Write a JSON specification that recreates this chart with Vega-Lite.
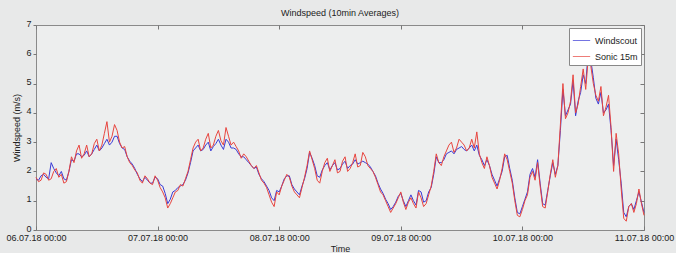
{
  "$schema": "https://vega.github.io/schema/vega-lite/v6.json",
  "width": 608,
  "height": 205,
  "autosize": {"type": "none"},
  "padding": {"left": 36, "top": 25, "right": 32, "bottom": 23},
  "background": "#e8e9e9",
  "title": {"text": "Windspeed (10min Averages)", "fontSize": 9, "fontWeight": "normal", "font": "Liberation Sans", "color": "#222222", "offset": 1},
  "config": {
    "view": {"stroke": "#8a8a8a", "fill": "#edeeee", "strokeWidth": 1},
    "font": "Liberation Sans",
    "axis": {"domain": false, "grid": false, "labelFont": "Liberation Sans", "labelFontSize": 9, "labelColor": "#222222", "titleFont": "Liberation Sans", "titleFontSize": 9, "titleFontWeight": "normal", "titleColor": "#222222", "tickColor": "#777777"}
  },
  "data": {"values": [
    {"t":"2018-07-06T00:00","w":1.75,"s":1.8},{"t":"2018-07-06T00:30","w":1.7,"s":1.65},{"t":"2018-07-06T01:00","w":1.85,"s":1.7},{"t":"2018-07-06T01:30","w":1.9,"s":1.95},{"t":"2018-07-06T02:00","w":1.8,"s":1.9},{"t":"2018-07-06T02:30","w":1.75,"s":1.7},{"t":"2018-07-06T03:00","w":2.3,"s":1.75},{"t":"2018-07-06T03:30","w":2.1,"s":2.0},{"t":"2018-07-06T04:00","w":1.95,"s":2.1},{"t":"2018-07-06T04:30","w":1.85,"s":1.8},{"t":"2018-07-06T05:00","w":2.0,"s":1.9},{"t":"2018-07-06T05:30","w":1.75,"s":1.6},{"t":"2018-07-06T06:00","w":1.7,"s":1.65},{"t":"2018-07-06T06:30","w":2.0,"s":2.0},{"t":"2018-07-06T07:00","w":2.4,"s":2.5},{"t":"2018-07-06T07:30","w":2.35,"s":2.3},{"t":"2018-07-06T08:00","w":2.6,"s":2.7},{"t":"2018-07-06T08:30","w":2.6,"s":2.9},{"t":"2018-07-06T09:00","w":2.5,"s":2.45},{"t":"2018-07-06T09:30","w":2.55,"s":2.6},{"t":"2018-07-06T10:00","w":2.7,"s":2.9},{"t":"2018-07-06T10:30","w":2.5,"s":2.5},{"t":"2018-07-06T11:00","w":2.6,"s":2.6},{"t":"2018-07-06T11:30","w":2.75,"s":2.95},{"t":"2018-07-06T12:00","w":2.9,"s":3.1},{"t":"2018-07-06T12:30","w":2.7,"s":2.7},{"t":"2018-07-06T13:00","w":2.8,"s":2.9},{"t":"2018-07-06T13:30","w":2.95,"s":3.3},{"t":"2018-07-06T14:00","w":3.1,"s":3.7},{"t":"2018-07-06T14:30","w":2.9,"s":3.0},{"t":"2018-07-06T15:00","w":3.0,"s":3.2},{"t":"2018-07-06T15:30","w":3.2,"s":3.6},{"t":"2018-07-06T16:00","w":3.2,"s":3.4},{"t":"2018-07-06T16:30","w":2.95,"s":3.0},{"t":"2018-07-06T17:00","w":2.8,"s":2.8},{"t":"2018-07-06T17:30","w":2.75,"s":2.85},{"t":"2018-07-06T18:00","w":2.5,"s":2.5},{"t":"2018-07-06T18:30","w":2.35,"s":2.3},{"t":"2018-07-06T19:00","w":2.25,"s":2.2},{"t":"2018-07-06T19:30","w":2.1,"s":2.05},{"t":"2018-07-06T20:00","w":1.9,"s":1.95},{"t":"2018-07-06T20:30","w":1.75,"s":1.7},{"t":"2018-07-06T21:00","w":1.65,"s":1.6},{"t":"2018-07-06T21:30","w":1.8,"s":1.85},{"t":"2018-07-06T22:00","w":1.7,"s":1.75},{"t":"2018-07-06T22:30","w":1.6,"s":1.6},{"t":"2018-07-06T23:00","w":1.6,"s":1.55},{"t":"2018-07-06T23:30","w":1.8,"s":1.85},
    {"t":"2018-07-07T00:00","w":1.75,"s":1.7},{"t":"2018-07-07T00:30","w":1.55,"s":1.45},{"t":"2018-07-07T01:00","w":1.5,"s":1.3},{"t":"2018-07-07T01:30","w":1.25,"s":1.1},{"t":"2018-07-07T02:00","w":0.9,"s":0.75},{"t":"2018-07-07T02:30","w":1.05,"s":0.9},{"t":"2018-07-07T03:00","w":1.3,"s":1.1},{"t":"2018-07-07T03:30","w":1.35,"s":1.3},{"t":"2018-07-07T04:00","w":1.45,"s":1.35},{"t":"2018-07-07T04:30","w":1.5,"s":1.55},{"t":"2018-07-07T05:00","w":1.55,"s":1.5},{"t":"2018-07-07T05:30","w":1.7,"s":1.75},{"t":"2018-07-07T06:00","w":1.95,"s":2.0},{"t":"2018-07-07T06:30","w":2.3,"s":2.4},{"t":"2018-07-07T07:00","w":2.7,"s":2.8},{"t":"2018-07-07T07:30","w":2.8,"s":3.0},{"t":"2018-07-07T08:00","w":2.9,"s":3.1},{"t":"2018-07-07T08:30","w":2.7,"s":2.7},{"t":"2018-07-07T09:00","w":2.75,"s":2.8},{"t":"2018-07-07T09:30","w":2.9,"s":3.1},{"t":"2018-07-07T10:00","w":3.0,"s":3.3},{"t":"2018-07-07T10:30","w":2.7,"s":2.8},{"t":"2018-07-07T11:00","w":2.85,"s":2.9},{"t":"2018-07-07T11:30","w":2.95,"s":3.2},{"t":"2018-07-07T12:00","w":3.1,"s":3.4},{"t":"2018-07-07T12:30","w":2.9,"s":3.05},{"t":"2018-07-07T13:00","w":2.75,"s":2.9},{"t":"2018-07-07T13:30","w":3.1,"s":3.5},{"t":"2018-07-07T14:00","w":3.0,"s":3.2},{"t":"2018-07-07T14:30","w":2.8,"s":2.9},{"t":"2018-07-07T15:00","w":2.8,"s":3.0},{"t":"2018-07-07T15:30","w":2.75,"s":2.85},{"t":"2018-07-07T16:00","w":2.6,"s":2.7},{"t":"2018-07-07T16:30","w":2.5,"s":2.45},{"t":"2018-07-07T17:00","w":2.5,"s":2.6},{"t":"2018-07-07T17:30","w":2.4,"s":2.5},{"t":"2018-07-07T18:00","w":2.3,"s":2.35},{"t":"2018-07-07T18:30","w":2.2,"s":2.2},{"t":"2018-07-07T19:00","w":2.1,"s":2.1},{"t":"2018-07-07T19:30","w":2.15,"s":2.2},{"t":"2018-07-07T20:00","w":1.9,"s":1.95},{"t":"2018-07-07T20:30","w":1.75,"s":1.7},{"t":"2018-07-07T21:00","w":1.65,"s":1.6},{"t":"2018-07-07T21:30","w":1.5,"s":1.45},{"t":"2018-07-07T22:00","w":1.35,"s":1.2},{"t":"2018-07-07T22:30","w":1.1,"s":0.95},{"t":"2018-07-07T23:00","w":1.0,"s":0.8},{"t":"2018-07-07T23:30","w":1.35,"s":1.3},
    {"t":"2018-07-08T00:00","w":1.3,"s":1.2},{"t":"2018-07-08T00:30","w":1.5,"s":1.5},{"t":"2018-07-08T01:00","w":1.75,"s":1.7},{"t":"2018-07-08T01:30","w":1.85,"s":1.9},{"t":"2018-07-08T02:00","w":1.85,"s":1.8},{"t":"2018-07-08T02:30","w":1.55,"s":1.5},{"t":"2018-07-08T03:00","w":1.4,"s":1.3},{"t":"2018-07-08T03:30","w":1.3,"s":1.2},{"t":"2018-07-08T04:00","w":1.2,"s":1.1},{"t":"2018-07-08T04:30","w":1.5,"s":1.45},{"t":"2018-07-08T05:00","w":1.75,"s":1.8},{"t":"2018-07-08T05:30","w":2.1,"s":2.2},{"t":"2018-07-08T06:00","w":2.65,"s":2.7},{"t":"2018-07-08T06:30","w":2.45,"s":2.4},{"t":"2018-07-08T07:00","w":2.2,"s":2.1},{"t":"2018-07-08T07:30","w":1.85,"s":1.7},{"t":"2018-07-08T08:00","w":1.8,"s":1.6},{"t":"2018-07-08T08:30","w":2.05,"s":2.0},{"t":"2018-07-08T09:00","w":2.2,"s":2.3},{"t":"2018-07-08T09:30","w":2.3,"s":2.45},{"t":"2018-07-08T10:00","w":2.05,"s":2.0},{"t":"2018-07-08T10:30","w":2.2,"s":2.2},{"t":"2018-07-08T11:00","w":2.3,"s":2.4},{"t":"2018-07-08T11:30","w":2.05,"s":1.95},{"t":"2018-07-08T12:00","w":2.1,"s":2.0},{"t":"2018-07-08T12:30","w":2.25,"s":2.35},{"t":"2018-07-08T13:00","w":2.35,"s":2.5},{"t":"2018-07-08T13:30","w":2.1,"s":2.0},{"t":"2018-07-08T14:00","w":2.2,"s":2.1},{"t":"2018-07-08T14:30","w":2.25,"s":2.3},{"t":"2018-07-08T15:00","w":2.4,"s":2.6},{"t":"2018-07-08T15:30","w":2.25,"s":2.15},{"t":"2018-07-08T16:00","w":2.3,"s":2.2},{"t":"2018-07-08T16:30","w":2.35,"s":2.65},{"t":"2018-07-08T17:00","w":2.3,"s":2.5},{"t":"2018-07-08T17:30","w":2.25,"s":2.2},{"t":"2018-07-08T18:00","w":2.15,"s":2.1},{"t":"2018-07-08T18:30","w":2.0,"s":2.0},{"t":"2018-07-08T19:00","w":1.85,"s":1.8},{"t":"2018-07-08T19:30","w":1.6,"s":1.55},{"t":"2018-07-08T20:00","w":1.4,"s":1.3},{"t":"2018-07-08T20:30","w":1.25,"s":1.2},{"t":"2018-07-08T21:00","w":1.05,"s":1.0},{"t":"2018-07-08T21:30","w":0.9,"s":0.8},{"t":"2018-07-08T22:00","w":0.7,"s":0.6},{"t":"2018-07-08T22:30","w":0.8,"s":0.75},{"t":"2018-07-08T23:00","w":0.95,"s":0.9},{"t":"2018-07-08T23:30","w":1.15,"s":1.1},
    {"t":"2018-07-09T00:00","w":1.25,"s":1.3},{"t":"2018-07-09T00:30","w":1.0,"s":0.95},{"t":"2018-07-09T01:00","w":0.8,"s":0.7},{"t":"2018-07-09T01:30","w":1.0,"s":0.95},{"t":"2018-07-09T02:00","w":1.2,"s":1.1},{"t":"2018-07-09T02:30","w":1.0,"s":0.9},{"t":"2018-07-09T03:00","w":0.85,"s":0.75},{"t":"2018-07-09T03:30","w":1.35,"s":1.3},{"t":"2018-07-09T04:00","w":1.3,"s":1.1},{"t":"2018-07-09T04:30","w":0.95,"s":0.8},{"t":"2018-07-09T05:00","w":1.0,"s":0.9},{"t":"2018-07-09T05:30","w":1.3,"s":1.2},{"t":"2018-07-09T06:00","w":1.45,"s":1.5},{"t":"2018-07-09T06:30","w":1.9,"s":2.0},{"t":"2018-07-09T07:00","w":2.5,"s":2.6},{"t":"2018-07-09T07:30","w":2.3,"s":2.3},{"t":"2018-07-09T08:00","w":2.3,"s":2.2},{"t":"2018-07-09T08:30","w":2.4,"s":2.5},{"t":"2018-07-09T09:00","w":2.6,"s":2.7},{"t":"2018-07-09T09:30","w":2.65,"s":2.9},{"t":"2018-07-09T10:00","w":2.7,"s":3.0},{"t":"2018-07-09T10:30","w":2.6,"s":2.65},{"t":"2018-07-09T11:00","w":2.75,"s":2.8},{"t":"2018-07-09T11:30","w":2.8,"s":3.1},{"t":"2018-07-09T12:00","w":2.85,"s":3.0},{"t":"2018-07-09T12:30","w":2.75,"s":2.9},{"t":"2018-07-09T13:00","w":2.7,"s":2.7},{"t":"2018-07-09T13:30","w":2.8,"s":2.8},{"t":"2018-07-09T14:00","w":2.9,"s":3.1},{"t":"2018-07-09T14:30","w":2.7,"s":2.8},{"t":"2018-07-09T15:00","w":2.9,"s":3.35},{"t":"2018-07-09T15:30","w":2.55,"s":2.6},{"t":"2018-07-09T16:00","w":2.4,"s":2.3},{"t":"2018-07-09T16:30","w":2.2,"s":2.1},{"t":"2018-07-09T17:00","w":2.4,"s":2.5},{"t":"2018-07-09T17:30","w":2.2,"s":2.2},{"t":"2018-07-09T18:00","w":1.9,"s":1.8},{"t":"2018-07-09T18:30","w":1.7,"s":1.6},{"t":"2018-07-09T19:00","w":1.5,"s":1.4},{"t":"2018-07-09T19:30","w":1.75,"s":1.7},{"t":"2018-07-09T20:00","w":2.0,"s":2.1},{"t":"2018-07-09T20:30","w":2.5,"s":2.6},{"t":"2018-07-09T21:00","w":2.55,"s":2.4},{"t":"2018-07-09T21:30","w":2.1,"s":2.0},{"t":"2018-07-09T22:00","w":1.7,"s":1.6},{"t":"2018-07-09T22:30","w":1.1,"s":1.0},{"t":"2018-07-09T23:00","w":0.6,"s":0.5},{"t":"2018-07-09T23:30","w":0.55,"s":0.45},
    {"t":"2018-07-10T00:00","w":0.8,"s":0.7},{"t":"2018-07-10T00:30","w":1.05,"s":1.0},{"t":"2018-07-10T01:00","w":1.3,"s":1.2},{"t":"2018-07-10T01:30","w":1.9,"s":1.8},{"t":"2018-07-10T02:00","w":2.1,"s":2.0},{"t":"2018-07-10T02:30","w":1.8,"s":1.7},{"t":"2018-07-10T03:00","w":2.4,"s":2.3},{"t":"2018-07-10T03:30","w":1.6,"s":1.5},{"t":"2018-07-10T04:00","w":0.9,"s":0.8},{"t":"2018-07-10T04:30","w":0.85,"s":0.75},{"t":"2018-07-10T05:00","w":1.35,"s":1.3},{"t":"2018-07-10T05:30","w":1.85,"s":1.9},{"t":"2018-07-10T06:00","w":2.3,"s":2.4},{"t":"2018-07-10T06:30","w":1.9,"s":1.8},{"t":"2018-07-10T07:00","w":2.2,"s":2.2},{"t":"2018-07-10T07:30","w":3.4,"s":3.6},{"t":"2018-07-10T08:00","w":4.8,"s":5.0},{"t":"2018-07-10T08:30","w":3.9,"s":3.8},{"t":"2018-07-10T09:00","w":4.1,"s":4.0},{"t":"2018-07-10T09:30","w":4.3,"s":4.4},{"t":"2018-07-10T10:00","w":5.1,"s":5.3},{"t":"2018-07-10T10:30","w":3.9,"s":4.0},{"t":"2018-07-10T11:00","w":4.4,"s":4.3},{"t":"2018-07-10T11:30","w":4.7,"s":4.9},{"t":"2018-07-10T12:00","w":5.3,"s":5.5},{"t":"2018-07-10T12:30","w":5.0,"s":4.8},{"t":"2018-07-10T13:00","w":6.1,"s":5.9},{"t":"2018-07-10T13:30","w":5.8,"s":5.6},{"t":"2018-07-10T14:00","w":5.2,"s":5.0},{"t":"2018-07-10T14:30","w":4.5,"s":4.6},{"t":"2018-07-10T15:00","w":4.3,"s":4.4},{"t":"2018-07-10T15:30","w":4.7,"s":4.9},{"t":"2018-07-10T16:00","w":4.0,"s":3.9},{"t":"2018-07-10T16:30","w":4.1,"s":4.2},{"t":"2018-07-10T17:00","w":4.3,"s":4.6},{"t":"2018-07-10T17:30","w":3.4,"s":3.5},{"t":"2018-07-10T18:00","w":2.2,"s":2.0},{"t":"2018-07-10T18:30","w":3.1,"s":3.3},{"t":"2018-07-10T19:00","w":2.4,"s":2.6},{"t":"2018-07-10T19:30","w":1.6,"s":1.4},{"t":"2018-07-10T20:00","w":0.6,"s":0.4},{"t":"2018-07-10T20:30","w":0.45,"s":0.3},{"t":"2018-07-10T21:00","w":0.8,"s":0.8},{"t":"2018-07-10T21:30","w":0.9,"s":0.9},{"t":"2018-07-10T22:00","w":0.7,"s":0.6},{"t":"2018-07-10T22:30","w":1.0,"s":0.9},{"t":"2018-07-10T23:00","w":1.3,"s":1.4},{"t":"2018-07-10T23:30","w":0.95,"s":0.9},
    {"t":"2018-07-11T00:00","w":0.6,"s":0.5}
  ]},
  "layer": [
    {
      "mark": {"type": "line", "strokeWidth": 1},
      "encoding": {
        "x": {"field": "t", "type": "temporal",
          "scale": {"domain": [{"year": 2018, "month": 7, "date": 6}, {"year": 2018, "month": 7, "date": 11}]},
          "axis": {"orient": "bottom", "title": "Time", "format": "%d.%m.%y %H:%M", "tickSize": -4, "labelPadding": 7, "titlePadding": 2, "labelFlush": false, "labelOverlap": false,
            "values": [{"year": 2018, "month": 7, "date": 6}, {"year": 2018, "month": 7, "date": 7}, {"year": 2018, "month": 7, "date": 8}, {"year": 2018, "month": 7, "date": 9}, {"year": 2018, "month": 7, "date": 10}, {"year": 2018, "month": 7, "date": 11}]}},
        "y": {"field": "w", "type": "quantitative", "scale": {"domain": [0, 7], "nice": false},
          "axis": {"orient": "left", "title": "Windspeed (m/s)", "values": [0, 1, 2, 3, 4, 5, 6, 7], "tickSize": 3, "labelPadding": 2, "labelOffset": -2, "titlePadding": 4}},
        "color": {"datum": "Windscout", "type": "nominal",
          "scale": {"domain": ["Windscout", "Sonic 15m"], "range": ["#3a3ad6", "#e8453f"]},
          "legend": {"title": null, "orient": "top-right", "offset": 3, "fillColor": "#ffffff", "strokeColor": "#888888", "padding": 3, "symbolType": "stroke", "symbolSize": 300, "symbolStrokeWidth": 1, "symbolOpacity": 0.7, "labelFontSize": 9, "labelFont": "Liberation Sans", "labelColor": "#222222", "rowPadding": 1}}
      }
    },
    {
      "mark": {"type": "line", "strokeWidth": 1},
      "encoding": {
        "x": {"field": "t", "type": "temporal", "axis": null},
        "y": {"field": "s", "type": "quantitative", "axis": null},
        "color": {"datum": "Sonic 15m", "type": "nominal"}
      }
    },
    {
      "mark": {"type": "line", "opacity": 0},
      "encoding": {
        "x": {"field": "t", "type": "temporal",
          "axis": {"orient": "top", "labels": false, "title": null, "tickSize": -4,
            "values": [{"year": 2018, "month": 7, "date": 6}, {"year": 2018, "month": 7, "date": 7}, {"year": 2018, "month": 7, "date": 8}, {"year": 2018, "month": 7, "date": 9}, {"year": 2018, "month": 7, "date": 10}, {"year": 2018, "month": 7, "date": 11}]}},
        "y": {"field": "s", "type": "quantitative",
          "axis": {"orient": "right", "labels": false, "title": null, "tickSize": -4, "values": [0, 1, 2, 3, 4, 5, 6, 7]}}
      }
    }
  ],
  "resolve": {"axis": {"x": "independent", "y": "independent"}}
}
